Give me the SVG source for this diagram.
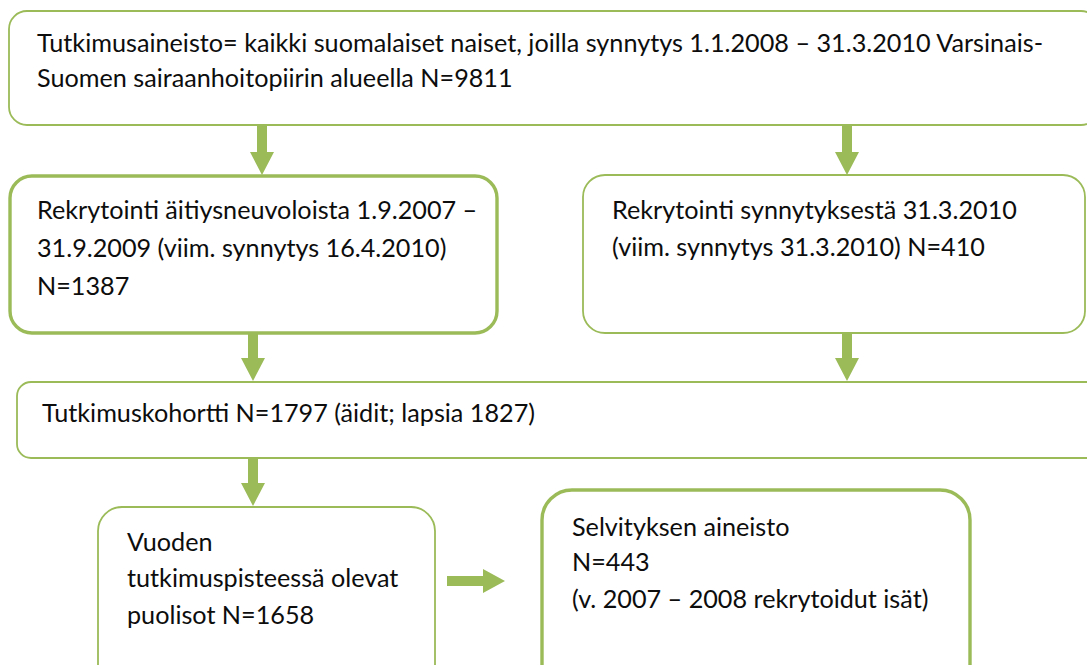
<svg xmlns="http://www.w3.org/2000/svg" width="1087" height="665" viewBox="0 0 1087 665">
<style>
.box{fill:#fff;stroke:#9bbb59;stroke-width:1.8}
.thick{stroke-width:3.4}
.t{font-family:Lato,"Open Sans","Liberation Sans",sans-serif;font-size:25.2px;fill:#0d0d0d}
.arr{fill:#9bbb59}
</style>
<rect width="1087" height="665" fill="#fff"/>
<g id="n1">
<rect class="box" x="9" y="11" width="1090" height="114" rx="18"/>
<text class="t" x="37" y="52" textLength="1006" lengthAdjust="spacingAndGlyphs">Tutkimusaineisto= kaikki suomalaiset naiset, joilla synnytys 1.1.2008 – 31.3.2010 Varsinais-</text>
<text class="t" x="37" y="87">Suomen sairaanhoitopiirin alueella N=9811</text>
</g>
<g id="n2">
<rect class="box thick" x="10" y="176" width="487" height="157" rx="22"/>
<text class="t" x="37" y="219">Rekrytointi äitiysneuvoloista 1.9.2007 –</text>
<text class="t" x="37" y="257">31.9.2009 (viim. synnytys 16.4.2010)</text>
<text class="t" x="37" y="295">N=1387</text>
</g>
<g id="n3">
<rect class="box" x="583" y="175" width="502" height="158" rx="22"/>
<text class="t" x="612" y="219">Rekrytointi synnytyksestä 31.3.2010</text>
<text class="t" x="612" y="256">(viim. synnytys 31.3.2010) N=410</text>
</g>
<g id="n4">
<rect class="box" x="17" y="382" width="1085" height="76" rx="14"/>
<text class="t" x="42" y="422">Tutkimuskohortti N=1797 (äidit; lapsia 1827)</text>
</g>
<g id="n5">
<rect class="box" x="98" y="507" width="337" height="190" rx="24"/>
<text class="t" x="127" y="551">Vuoden</text>
<text class="t" x="127" y="587">tutkimuspisteessä olevat</text>
<text class="t" x="127" y="624">puolisot N=1658</text>
</g>
<g id="n6">
<rect class="box thick" x="542" y="490" width="428" height="210" rx="30"/>
<text class="t" x="572" y="536">Selvityksen aineisto</text>
<text class="t" x="572" y="571">N=443</text>
<text class="t" x="572" y="608">(v. 2007 – 2008 rekrytoidut isät)</text>
</g>
<g id="connectors">
<polygon class="arr" points="257,126 267,126 267,152 274,152 262,175 250,152 257,152"/>
<polygon class="arr" points="842,126 852,126 852,152 859,152 847,175 835,152 842,152"/>
<polygon class="arr" points="248,334 258,334 258,358 265,358 253,381 241,358 248,358"/>
<polygon class="arr" points="842,334 852,334 852,358 859,358 847,381 835,358 842,358"/>
<polygon class="arr" points="248,459 258,459 258,483 265,483 253,506 241,483 248,483"/>
<polygon class="arr" points="447,576 483,576 483,569 505,581 483,593 483,586 447,586"/>
</g>
</svg>
